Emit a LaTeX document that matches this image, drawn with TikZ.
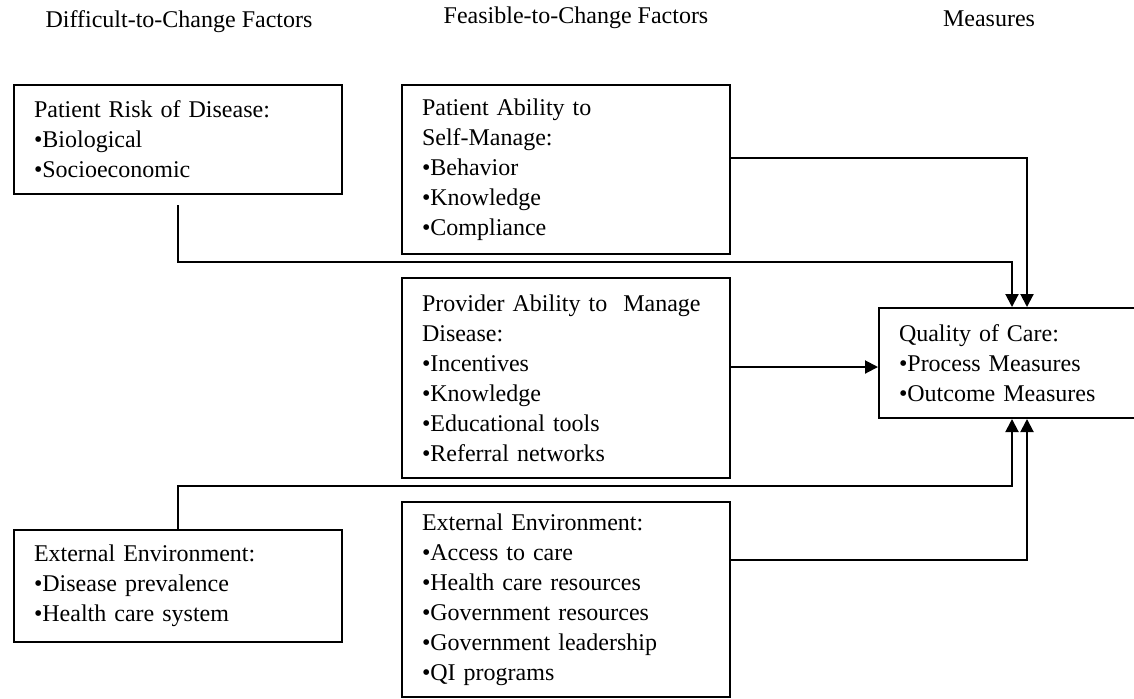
\documentclass[tikz,border=0pt]{standalone}
\usepackage{fontspec}
\setmainfont{Liberation Serif}
\usetikzlibrary{arrows.meta}

\tikzset{
  factor/.style={draw=black, line width=1pt, anchor=north west, align=left,
    inner xsep=10pt, inner ysep=0pt, font=\fontsize{12}{15}\selectfont},
  header/.style={font=\fontsize{12}{15}\selectfont},
  link/.style={line width=1pt, -{Triangle[width=6.5pt,length=6.5pt]}}
}

\begin{document}
\begin{tikzpicture}[x=0.5pt, y=-0.5pt]
        \useasboundingbox (0,0) rectangle (1134,698);

        % column headings
        \node[header] (hdiff) at (179,22) {Difficult-to-Change Factors};
        \node[header] (hfeas) at (576,18) {Feasible-to-Change Factors};
        \node[header] (hmeas) at (989,19) {Measures};

        % boxes
        \node[factor, text width=144pt, minimum height=54.5pt] (risk) at (13,84)
            {Patient Risk of Disease:\\•Biological\\•Socioeconomic};
        \node[factor, text width=144pt, minimum height=84.5pt] (self) at (401,84)
            {Patient Ability to\\Self-Manage:\\•Behavior\\•Knowledge\\•Compliance};
        \node[factor, text width=144pt, minimum height=100pt] (prov) at (401,277)
            {Provider Ability to~ Manage\\Disease:\\•Incentives\\•Knowledge\\•Educational tools\\•Referral networks};
        \node[factor, text width=144pt, minimum height=56pt] (extd) at (13,529)
            {External Environment:\\•Disease prevalence\\•Health care system};
        \node[factor, text width=144pt, minimum height=97.5pt] (extf) at (401,501)
            {External Environment:\\•Access to care\\•Health care resources\\•Government resources\\•Government leadership\\•QI programs};
        \node[factor, text width=111pt, minimum height=55pt] (qual) at (878,307)
            {Quality of Care:\\•Process Measures\\•Outcome Measures};

        % connectors
        \coordinate (jr) at (1012,262);
        \coordinate (js) at (1027,158);
        \coordinate (jd) at (1012,486);
        \coordinate (je) at (1027,560);

        \draw[link] ([yshift=-5pt]risk.south) |- (jr) -- (jr |- qual.north);
        \draw[link] (self.east |- js) -- (js) -- (js |- qual.north);
        \draw[link] (prov.east |- 0,367) -- (qual.west |- 0,367);
        \draw[link] (extd.north) |- (jd) -- (jd |- qual.south);
        \draw[link] (extf.east |- je) -- (je) -- (je |- qual.south);
    \end{tikzpicture}
\end{document}
